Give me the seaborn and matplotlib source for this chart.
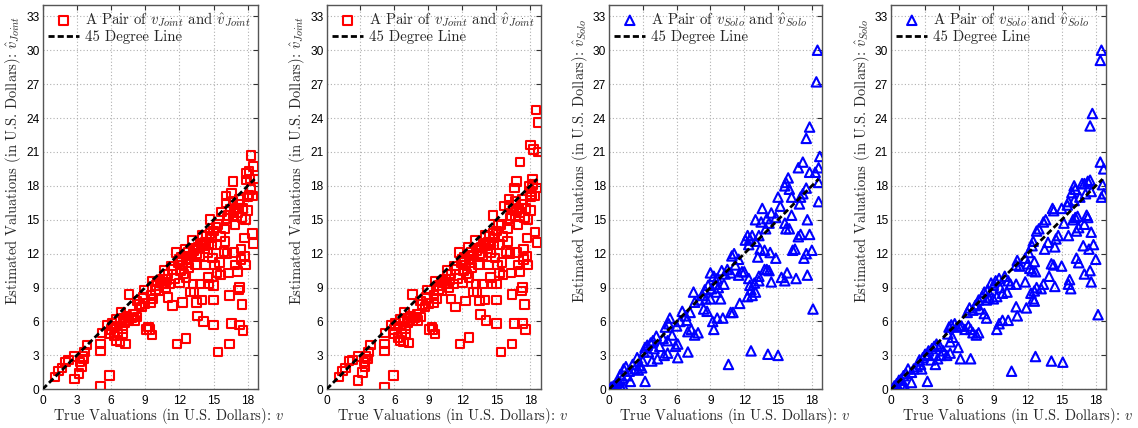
import matplotlib
matplotlib.use("Agg")
import matplotlib.pyplot as plt
import seaborn as sns
from matplotlib.transforms import Bbox, TransformedBbox

# ---------------- data ----------------
joint_a = [(1.1,1.1),(1.4,1.6),(1.7,1.9),(2.0,2.4),(2.3,2.6),(2.8,2.9),(2.8,0.9),(3.2,1.4),(3.3,2.4),(3.4,2.0),
 (3.6,2.7),(3.7,3.3),(3.9,3.9),(3.5,2.9),(5.1,0.3),(5.1,4.0),(5.1,3.4),(5.2,5.0),(5.9,1.2),(5.7,5.7),(5.9,4.9),
 (6.1,5.8),(6.0,5.3),(6.3,5.6),(6.3,4.7),(6.5,4.3),(6.5,6.2),(6.6,5.0),(6.8,4.2),(6.8,6.0),(6.9,6.8),(7.0,5.4),
 (7.0,4.9),(7.1,6.3),(7.2,5.9),(7.3,4.0),(7.4,6.5),(7.6,8.4),(7.6,6.1),(7.8,6.3),(8.0,6.6),(8.1,6.1),(8.3,6.4),
 (8.3,7.8),(8.5,7.5),(8.7,7.3),(8.8,8.1),(8.9,8.8),(9.0,7.6),(9.1,5.3),(9.3,5.5),(9.4,5.3),(9.5,8.3),(9.6,4.8),
 (9.5,7.7),(9.6,9.6),(9.7,8.0),(9.9,8.8),(10.0,9.2),(10.2,8.7),(10.3,9.5),(10.5,9.7),(10.7,10.5),(10.8,9.0),
 (11.0,8.1),(11.0,10.2),(11.2,9.3),(11.4,7.4),(11.4,10.6),(11.6,9.8),(11.7,12.1),(11.8,4.0),(11.9,11.2),(12.0,9.4),
 (12.1,10.5),(12.2,11.7),(12.3,7.7),(12.4,10.2),(12.5,12.4),(12.6,9.9),(12.6,4.5),(12.7,11.2),(12.8,10.8),(12.9,11.8),
 (13.0,8.6),(13.1,13.2),(13.2,9.3),(13.3,12.3),(13.3,8.6),(13.4,11.0),(13.5,7.7),(13.6,6.5),(13.7,12.6),(13.8,9.3),
 (13.8,11.8),(14.0,13.6),(14.0,7.9),(14.1,6.0),(14.2,12.4),(14.3,11.0),(14.3,13.0),(14.5,9.9),(14.5,12.1),(14.6,9.3),
 (14.7,15.0),(14.7,13.8),(14.8,12.8),(14.9,11.6),(15.0,14.0),(15.0,9.2),(15.0,7.9),(15.0,5.7),(15.1,11.0),(15.2,14.3),
 (15.3,12.8),(15.3,10.3),(15.4,3.3),(15.5,11.2),(15.6,10.1),(15.6,13.5),(15.7,15.7),(15.9,12.2),(16.0,14.2),(16.0,13.1),
 (16.1,17.1),(16.1,16.5),(16.2,12.0),(16.3,10.3),(16.3,15.4),(16.4,8.3),(16.4,4.0),(16.5,15.9),(16.6,17.3),(16.6,5.8),
 (16.7,15.3),(16.7,16.6),(16.8,12.1),(16.9,11.0),(16.9,14.6),(16.7,18.4),(17.0,16.0),(17.1,10.4),(17.1,15.6),(17.2,8.8),
 (17.3,9.0),(17.3,5.7),(17.3,16.8),(17.4,12.4),(17.4,11.5),(17.5,7.5),(17.5,15.2),(17.6,16.0),(17.6,5.2),(17.7,13.4),
 (17.7,11.8),(17.8,11.0),(17.8,15.0),(17.9,19.1),(17.9,18.5),(18.0,15.8),(18.0,17.0),(18.1,17.2),(18.1,19.3),(18.2,18.6),
 (18.3,20.7),(18.3,17.7),(18.4,13.8),(18.5,12.9),(18.5,19.7),(18.6,18.6),(18.4,17.1),(12.0,11.5),(12.3,11.0),(12.6,11.5),
 (13.9,12.9),(14.4,13.5),(10.9,9.7),(11.3,10.9),(13.5,12.0),(14.1,12.7),(14.8,13.4),(15.4,14.6),(16.2,15.1),(16.8,15.8),
 (17.2,16.4),(10.1,9.6),(10.6,9.3),(12.8,12.1)]

joint_b = [(1.1,1.1),(1.4,1.6),(1.7,1.9),(2.0,2.5),(2.3,2.6),(2.8,2.9),(2.8,0.8),(3.2,1.5),(3.3,2.4),(3.4,2.0),
 (3.6,2.7),(3.7,3.3),(3.9,3.9),(3.5,2.9),(5.1,0.2),(5.1,4.0),(5.1,3.4),(5.2,5.0),(5.9,1.2),(5.7,5.7),(5.9,4.9),
 (6.1,5.8),(6.0,5.3),(6.3,5.6),(6.3,4.6),(6.5,4.3),(6.5,6.2),(6.6,5.0),(6.8,4.2),(6.8,6.0),(6.9,6.8),(7.0,5.4),
 (7.0,4.9),(7.1,6.3),(7.2,5.9),(7.3,4.1),(7.4,6.5),(7.6,8.4),(7.6,6.1),(7.8,6.3),(8.0,6.6),(8.1,6.1),(8.3,6.4),
 (8.3,7.8),(8.5,7.5),(8.7,7.3),(8.8,8.1),(8.9,8.8),(9.0,7.6),(9.1,5.3),(9.3,5.5),(9.4,5.3),(9.5,8.3),(9.6,4.9),
 (9.5,7.7),(9.6,9.6),(9.7,8.0),(9.9,8.8),(10.0,9.2),(10.2,8.7),(10.3,9.5),(10.5,9.7),(10.7,10.5),(10.8,9.0),
 (11.0,8.0),(11.0,10.2),(11.2,9.3),(11.4,7.3),(11.4,10.6),(11.6,9.8),(11.7,12.1),(11.8,4.0),(11.9,11.2),(12.0,9.4),
 (12.1,10.5),(12.2,11.7),(12.3,7.8),(12.4,10.2),(12.5,12.6),(12.6,9.9),(12.6,4.6),(12.7,11.2),(12.8,10.8),(12.9,11.8),
 (13.0,8.6),(13.1,13.2),(13.2,9.3),(13.3,12.3),(13.3,8.6),(13.4,11.0),(13.5,7.8),(13.6,6.6),(13.7,12.6),(13.8,9.3),
 (13.8,11.8),(14.0,13.6),(14.0,7.9),(14.1,6.1),(14.2,12.4),(14.3,11.0),(14.3,13.0),(14.5,9.9),(14.5,12.1),(14.6,9.3),
 (14.7,15.4),(14.7,13.8),(14.8,12.8),(14.9,11.6),(15.0,14.0),(15.0,9.3),(15.0,7.9),(15.0,5.8),(15.1,11.0),(15.2,14.5),
 (15.3,12.8),(15.3,10.3),(15.4,3.3),(15.5,11.2),(15.6,10.1),(15.6,13.5),(15.7,16.2),(15.9,12.2),(16.0,14.2),(16.0,13.1),
 (16.1,16.8),(16.1,16.3),(16.2,12.0),(16.3,10.3),(16.3,15.4),(16.4,8.4),(16.4,4.0),(16.5,15.9),(16.6,17.8),(16.6,5.8),
 (16.7,15.3),(16.7,16.6),(16.8,12.1),(16.9,11.0),(16.9,14.6),(16.8,18.4),(17.0,16.0),(17.1,10.4),(17.1,15.6),(17.2,8.7),
 (17.3,9.0),(17.3,5.8),(17.3,16.8),(17.4,12.4),(17.4,11.5),(17.5,7.5),(17.5,15.2),(17.6,16.0),(17.6,5.3),(17.7,13.4),
 (17.7,11.8),(17.8,11.0),(17.8,15.0),(17.9,18.0),(18.0,17.5),(18.0,15.8),(18.0,17.0),(18.1,17.2),(18.2,18.1),(18.2,18.6),
 (18.5,24.7),(18.7,23.6),(18.0,21.6),(18.3,21.2),(18.7,21.0),(17.1,20.1),(18.4,13.9),(18.6,13.0),(18.6,17.8),(18.4,17.1),
 (12.0,11.5),(12.3,11.0),(12.6,11.5),(13.9,12.9),(14.4,13.5),(10.9,9.7),(11.3,10.9),(13.5,12.0),(14.1,12.7),(14.8,13.4),
 (15.4,14.6),(16.2,15.1),(16.8,15.8),(17.2,16.4),(10.1,9.6),(10.6,9.3),(12.8,12.1)]

solo_a = [(18.5,30.0),(18.4,27.2),(17.8,23.2),(17.5,22.2),(18.7,20.6),(17.2,20.1),(16.8,19.6),(18.6,19.6),(18.3,19.2),
 (17.8,19.2),(15.9,18.7),(15.7,18.3),(15.6,18.0),(16.0,17.7),(18.6,18.3),(18.6,16.6),(17.5,17.8),(17.2,17.3),(16.2,17.0),
 (16.9,16.4),(17.0,17.0),(15.0,17.0),(15.2,16.2),(16.2,15.4),(13.6,16.0),(14.4,15.6),(14.8,15.2),(15.6,14.7),(15.7,14.2),
 (16.0,14.2),(14.0,15.1),(14.2,14.7),(13.9,14.2),(13.5,14.8),(13.0,15.0),(13.3,13.6),(12.3,13.6),(12.1,13.2),(12.5,13.3),
 (12.7,13.6),(12.4,12.8),(13.0,13.1),(17.6,15.0),(17.0,13.7),(16.8,13.5),(17.8,13.7),(16.5,12.4),(16.3,12.3),(18.0,12.3),
 (17.3,11.6),(17.5,12.0),(17.6,10.1),(16.6,9.8),(15.8,10.3),(15.6,9.6),(15.3,9.9),(14.4,9.5),(14.8,11.6),(14.3,12.1),
 (13.8,12.3),(13.4,12.4),(13.2,11.7),(14.0,10.6),(13.8,10.6),(14.2,10.5),(13.3,10.0),(13.3,9.6),(12.9,9.4),(12.4,9.8),
 (12.5,9.2),(12.7,8.3),(12.3,8.2),(12.6,8.8),(13.0,8.6),(11.5,10.1),(11.8,10.4),(12.0,10.4),(11.1,12.0),(10.9,11.8),
 (11.2,11.0),(11.5,11.5),(10.8,10.3),(10.5,10.6),(10.0,10.5),(10.3,10.2),(11.6,7.6),(11.0,6.8),(10.8,6.8),(12.6,3.4),
 (14.1,3.1),(15.0,3.0),(10.6,2.2),(18.1,7.1),(9.0,10.3),(9.3,10.0),(9.6,9.8),(8.8,9.2),(8.5,8.8),(8.3,8.3),(8.0,7.9),
 (7.6,7.7),(7.5,8.6),(8.6,8.0),(9.1,8.9),(9.5,8.6),(9.9,8.0),(9.0,8.0),(9.4,9.3),(9.7,9.0),(10.2,9.3),(9.2,6.0),(9.3,5.3),
 (9.6,6.3),(10.1,6.3),(8.7,6.9),(8.4,7.1),(7.9,5.0),(7.6,4.8),(7.3,5.3),(7.0,5.1),(6.9,6.1),(7.2,6.8),(6.8,6.5),(6.5,6.9),
 (6.3,6.0),(6.0,5.6),(6.1,4.0),(5.9,3.8),(5.4,6.3),(5.3,5.8),(5.0,5.5),(5.6,4.8),(5.2,4.3),(4.8,4.5),(4.5,3.8),(4.2,4.7),
 (4.0,3.6),(3.9,4.3),(3.7,4.1),(3.4,3.9),(3.2,3.7),(3.1,3.3),(3.5,3.3),(3.8,2.5),(4.3,2.7),(4.9,3.0),(5.2,3.2),(6.1,2.8),
 (7.0,3.3),(3.0,2.5),(2.7,2.1),(2.5,2.8),(2.3,1.8),(2.6,1.7),(2.9,1.9),(2.1,2.2),(1.8,1.6),(1.5,2.0),(1.3,1.8),(1.6,1.2),
 (1.2,1.0),(1.0,1.3),(0.8,0.8),(0.6,0.5),(0.4,0.3),(0.3,0.1),(0.2,0.2),(1.0,0.3),(1.3,0.2),(1.9,0.7),(3.2,0.7),(0.9,0.6)]

solo_b = [(18.5,30.0),(18.4,29.1),(17.7,24.4),(17.5,23.3),(18.4,20.1),(18.7,19.5),(18.6,18.1),(18.7,17.3),(18.5,17.0),
 (17.5,18.5),(17.3,18.4),(17.0,18.2),(16.8,18.2),(16.1,18.0),(16.2,17.7),(15.9,17.4),(17.6,17.5),(17.1,17.3),(16.6,17.0),
 (16.1,16.7),(15.6,16.6),(15.5,16.3),(15.0,16.0),(14.3,15.8),(14.2,16.0),(13.6,15.0),(13.4,14.8),(13.0,14.2),(12.8,14.0),
 (12.5,13.1),(12.4,12.7),(12.1,12.1),(11.8,11.6),(11.1,11.4),(11.0,11.0),(11.3,10.9),(12.0,11.1),(12.6,11.3),(12.4,10.5),
 (12.2,10.7),(12.7,10.4),(13.5,12.4),(13.8,13.0),(14.5,13.3),(14.7,13.6),(14.4,12.6),(15.2,14.7),(15.6,13.6),(16.2,15.2),
 (16.5,14.3),(16.3,14.0),(16.0,15.0),(16.4,15.3),(17.0,14.6),(17.2,15.4),(17.3,15.2),(17.6,13.9),(17.4,12.4),(17.8,12.8),
 (18.0,11.5),(16.9,12.7),(17.5,10.5),(17.0,10.2),(16.5,11.2),(16.3,11.6),(17.6,9.5),(15.7,9.7),(15.6,9.3),(15.8,8.9),
 (15.0,10.9),(14.4,9.1),(14.1,11.1),(14.3,11.0),(13.9,10.0),(13.4,9.3),(13.2,8.9),(12.8,9.0),(12.6,8.7),(12.5,8.0),
 (12.6,7.8),(12.3,8.5),(11.9,7.2),(11.0,7.3),(11.1,6.5),(10.3,6.1),(9.8,6.1),(9.5,5.8),(9.3,5.3),(8.4,6.3),(8.2,6.7),
 (12.7,2.9),(14.1,2.5),(15.1,2.4),(10.6,1.6),(18.2,6.6),(10.0,10.0),(9.5,9.8),(9.2,9.6),(9.0,9.2),(8.8,9.4),(8.5,8.8),
 (8.2,8.6),(8.0,8.2),(7.7,7.9),(7.5,7.5),(7.2,7.0),(6.9,7.2),(6.7,6.8),(9.6,9.0),(10.3,9.6),(10.5,9.3),(11.0,9.3),
 (11.8,9.5),(9.8,8.5),(9.3,8.2),(9.0,8.0),(8.6,8.1),(8.4,7.9),(7.8,7.1),(7.4,7.4),(10.2,8.6),(7.7,5.0),(7.5,4.8),
 (7.2,5.0),(7.0,5.3),(6.8,5.6),(6.5,5.3),(6.2,5.6),(6.0,5.6),(5.8,5.5),(5.6,5.8),(5.3,5.7),(5.1,5.5),(5.0,4.9),(5.4,4.6),
 (5.2,4.2),(5.9,3.7),(6.1,2.7),(7.0,2.7),(4.9,3.0),(5.2,3.2),(4.6,3.4),(4.3,3.8),(4.0,4.0),(3.8,3.8),(3.6,3.6),(3.3,3.4),
 (3.0,3.1),(2.8,2.8),(3.2,3.0),(3.5,2.6),(4.1,2.7),(3.9,2.2),(4.4,3.0),(2.6,2.2),(2.5,2.6),(2.3,2.0),(2.0,1.8),(2.7,1.8),
 (1.8,1.5),(1.5,1.8),(1.3,1.4),(1.1,1.2),(0.9,0.9),(0.7,0.8),(0.5,0.5),(0.3,0.3),(0.2,0.1),(1.0,0.4),(1.3,0.1),(1.8,0.6),
 (3.2,0.7),(0.6,0.2)]

diag_line = [0.0, 18.6]
x_ticks = [0, 3, 6, 9, 12, 15, 18]
y_ticks = [0, 3, 6, 9, 12, 15, 18, 21, 24, 27, 30, 33]

panels = [
    (joint_a, "s", "#ff0000", "Joint"),
    (joint_b, "s", "#ff0000", "Joint"),
    (solo_a, "^", "#0000ff", "Solo"),
    (solo_b, "^", "#0000ff", "Solo"),
]

# ---------------- style ----------------
sns.set_style("white")
plt.rcParams["mathtext.fontset"] = "cm"
plt.rcParams["font.family"] = ["Liberation Sans", "DejaVu Sans"]
plt.rcParams["axes.unicode_minus"] = False

W, H = 1138, 428
fig = plt.figure(figsize=(W / 100, H / 100), dpi=100)

ax_px = [(42.5, 215.5), (326.5, 214.0), (609.0, 213.0), (891.0, 215.0)]
clip_px = [(0, 290), (290, 570), (570, 855), (855, 1138)]
bottom_px, top_px = 389.3, 5.0

serif = "cmr10"
lab_fs = 10.45
leg_fs = 10.7

for (data, mk, col, sub), (lx, lw), (c0, c1) in zip(panels, ax_px, clip_px):
    ax = fig.add_axes([lx / W, (H - bottom_px) / H, lw / W, (bottom_px - top_px) / H])
    xs = [p[0] for p in data]
    ys = [p[1] for p in data]
    sns.scatterplot(x=xs, y=ys, ax=ax, marker=mk, s=38 if mk == "s" else 46,
                    facecolor="none", edgecolor=col, linewidth=1.5, zorder=3,
                    label=rf"A Pair of $v_{{{sub}}}$ and $\hat{{v}}_{{{sub}}}$")
    sns.lineplot(x=diag_line, y=diag_line, ax=ax, color="black", linewidth=2.0,
                 linestyle="--", zorder=4, label="45 Degree Line")
    ax.lines[-1].set_dashes([2.2, 1.1])

    ax.set_xlim(0, 18.9)
    ax.set_ylim(0, 34)
    ax.set_xticks(x_ticks)
    ax.set_yticks(y_ticks)
    ax.set_xticklabels([str(t) for t in x_ticks])
    ax.set_yticklabels([str(t) for t in y_ticks])
    ax.tick_params(direction="in", length=3.5, width=0.8, top=True, right=True,
                   labelsize=8.6, colors="#333333", labelcolor="black")
    ax.tick_params(axis="x", pad=4.0)
    ax.tick_params(axis="y", pad=2.2)
    ax.grid(True, linestyle=(0, (1, 2)), color="#b0b0b0", linewidth=0.8)
    for sp in ax.spines.values():
        sp.set_visible(True)
        sp.set_color("#555555")
        sp.set_linewidth(1.0)

    ax.set_ylabel(rf"Estimated Valuations (in U.S. Dollars): $\hat{{v}}_{{{sub}}}$",
                  family=serif, fontsize=lab_fs)
    ax.yaxis.set_label_coords(-0.09, 0.595)

    xl = ax.set_xlabel(r"True Valuations (in U.S. Dollars): $v$", family=serif,
                       fontsize=lab_fs, ha="left")
    ax.xaxis.set_label_coords(0.049, -0.043)
    clip = TransformedBbox(Bbox.from_extents(c0 / W, 0, c1 / W, 1), fig.transFigure)
    xl.set_clip_box(clip)
    xl.set_clip_on(True)

    leg = ax.legend(loc="upper left", bbox_to_anchor=(0.0, 1.0), frameon=False,
                    prop={"family": serif, "size": leg_fs}, handlelength=2.1,
                    handletextpad=0.4, borderaxespad=0.0, borderpad=0.35,
                    labelspacing=0.1, scatterpoints=1, markerscale=1.0)

fig.savefig("out.png", dpi=100)
